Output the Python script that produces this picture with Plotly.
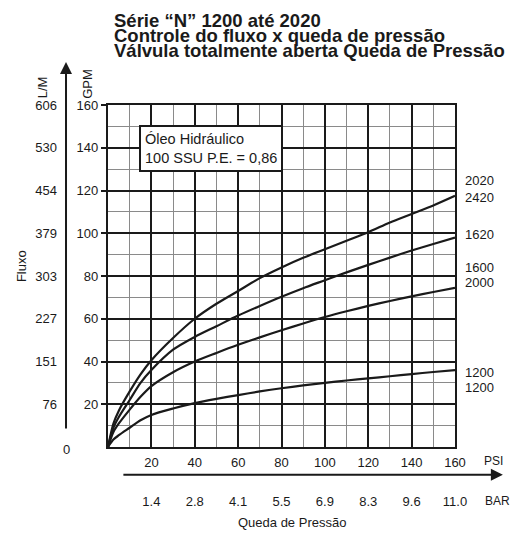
import plotly.graph_objects as go

# ---------------- data ----------------
psi = [0, 2.5, 5, 10, 15, 20, 30, 40, 50, 60, 70, 80, 90, 100, 110, 120, 130, 140, 150, 160]
gpm_2020_2420 = [0, 11, 17, 26, 34, 40.6, 51, 60, 67, 73, 79, 84, 88.5, 92.5, 96.5, 100.5, 105, 109, 113, 117.5]
gpm_1620 = [0, 9, 14, 22, 30, 36, 45.5, 51.5, 56.5, 61.5, 66, 70.3, 74.3, 78, 81.7, 85.2, 88.6, 91.9, 95, 98]
gpm_1600_2000 = [0, 7, 11, 17.5, 23.5, 28.5, 35, 40, 44, 47.8, 51.3, 54.6, 57.8, 60.8, 63.5, 66, 68.3, 70.5, 72.5, 74.5]
gpm_1200 = [0, 3.5, 5.5, 9, 12.5, 15, 18, 20.5, 22.5, 24.3, 26, 27.5, 28.8, 30, 31.1, 32.1, 33.1, 34.1, 35.1, 36]

series = [
    ("2020 / 2420", gpm_2020_2420, ["2020", "2420"], [15, -2]),
    ("1620", gpm_1620, ["1620"], [3]),
    ("1600 / 2000", gpm_1600_2000, ["1600", "2000"], [20, 5]),
    ("1200", gpm_1200, ["1200", "1200"], [-2, -17]),
]

gpm_ticks = [20, 40, 60, 80, 100, 120, 140, 160]
lm_labels = ["76", "151", "227", "303", "379", "454", "530", "606"]
psi_ticks = [20, 40, 60, 80, 100, 120, 140, 160]
bar_labels = ["1.4", "2.8", "4.1", "5.5", "6.9", "8.3", "9.6", "11.0"]

title_lines = [
    "Série “N” 1200 até 2020",
    "Controle do fluxo x queda de pressão",
    "Válvula totalmente aberta Queda de Pressão",
]

FONT = "Liberation Sans, Arial, sans-serif"
INK = "#1a1a1a"

fig = go.Figure()
for name, vals, labels, shifts in series:
    fig.add_trace(go.Scatter(
        x=psi, y=vals, mode="lines", name=name,
        line=dict(color=INK, width=2.2, shape="spline", smoothing=0.8),
        showlegend=False, hoverinfo="skip",
    ))
    for lab, sh in zip(labels, shifts):
        fig.add_annotation(x=1.022, xref="paper", y=vals[-1], yref="y", yshift=sh,
                           text=lab, showarrow=False, xanchor="left", yanchor="middle",
                           font=dict(size=13, color=INK, family=FONT))

# dummy traces to activate overlay axes
fig.add_trace(go.Scatter(x=[None], y=[None], xaxis="x2", yaxis="y", showlegend=False))
fig.add_trace(go.Scatter(x=[None], y=[None], xaxis="x", yaxis="y2", showlegend=False))
fig.add_trace(go.Scatter(x=[None], y=[None], xaxis="x", yaxis="y3", showlegend=False))

fig.update_layout(
    width=513, height=542,
    margin=dict(l=108, r=58, t=105, b=95),
    paper_bgcolor="white", plot_bgcolor="white",
    font=dict(family=FONT, size=13, color=INK),
    xaxis=dict(
        range=[0, 160], tickvals=psi_ticks, ticks="", showline=True, mirror=True,
        linecolor=INK, linewidth=2.2, showgrid=True, gridcolor=INK,
        gridwidth=2, zeroline=False, ticklabelstandoff=2,
        minor=dict(dtick=10, tick0=0, showgrid=True, gridcolor="#8a8a8a", gridwidth=1),
        tickfont=dict(size=13),
    ),
    xaxis2=dict(
        range=[0, 160], overlaying="x", side="bottom", anchor="y",
        tickvals=psi_ticks, ticktext=bar_labels, ticks="", showgrid=False,
        showline=False, zeroline=False, ticklabelstandoff=45, tickfont=dict(size=13),
    ),
    yaxis=dict(
        range=[0, 160], tickvals=gpm_ticks, ticks="outside", ticklen=5,
        tickwidth=2, tickcolor=INK, showline=True, mirror=True,
        linecolor=INK, linewidth=2.2, showgrid=False, zeroline=False,
        ticklabelstandoff=0,
        minor=dict(dtick=10, tick0=0, showgrid=True, gridcolor="#8a8a8a", gridwidth=1),
        tickfont=dict(size=13),
    ),
    yaxis2=dict(
        range=[0, 160], overlaying="y", side="left", anchor="x",
        tickvals=gpm_ticks, ticktext=lm_labels, ticks="", showgrid=False,
        showline=False, zeroline=False, ticklabelstandoff=50, tickfont=dict(size=13),
    ),
    yaxis3=dict(
        range=[0, 160], overlaying="y", side="left", anchor="x",
        tickvals=gpm_ticks[:-1], showticklabels=False, ticks="", showgrid=True,
        gridcolor=INK, gridwidth=2, showline=False, zeroline=False,
    ),
)

# title
for i, line in enumerate(title_lines):
    fig.add_annotation(x=0.011, xref="paper", y=1.246 - i * 0.0439, yref="paper",
                       text="<b>" + line + "</b>", showarrow=False, xanchor="left",
                       yanchor="middle", font=dict(size=18.5, color=INK, family=FONT))


def caption(x, y, text, angle=0, yref="paper", yshift=0, size=13):
    fig.add_annotation(x=x, xref="paper", y=y, yref=yref, yshift=yshift, text=text,
                       textangle=angle, showarrow=False, xanchor="center",
                       yanchor="middle", font=dict(size=size, color=INK, family=FONT))


caption(-0.190, 1.052, "L/M", -90)
caption(-0.0576, 1.062, "GPM", -90)
caption(-0.2507, 0.529, "Fluxo", -90)
caption(-0.121, 0, "0", yref="y", yshift=-2)
caption(1.112, -0.041, "PSI", size=12)
caption(1.1225, -0.158, "BAR", size=12)
caption(0.530, -0.222, "Queda de Pressão")

# arrows
fig.add_annotation(x=-0.121, xref="paper", y=1.126, yref="paper", ax=0, ay=368,
                   axref="pixel", ayref="pixel", showarrow=True, arrowhead=2,
                   arrowsize=1.2, arrowwidth=2, arrowcolor=INK, text="")
fig.add_annotation(x=1.138, xref="paper", y=-0.081, yref="paper", ax=-381, ay=0,
                   axref="pixel", ayref="pixel", showarrow=True, arrowhead=2,
                   arrowsize=1.2, arrowwidth=2, arrowcolor=INK, text="")

# legend box
fig.add_annotation(x=0.088, xref="paper", y=0.874, yref="paper",
                   text="Óleo Hidráulico<br>100 SSU P.E. = 0,86", align="left",
                   showarrow=False, xanchor="left", yanchor="middle",
                   bgcolor="white", bordercolor=INK, borderwidth=2, borderpad=4,
                   font=dict(size=14.5, color=INK, family=FONT))

fig.write_html(
    "out.html",
    config={"displayModeBar": False},
    post_script="document.body.style.margin='0';document.body.style.overflow='hidden';",
)
